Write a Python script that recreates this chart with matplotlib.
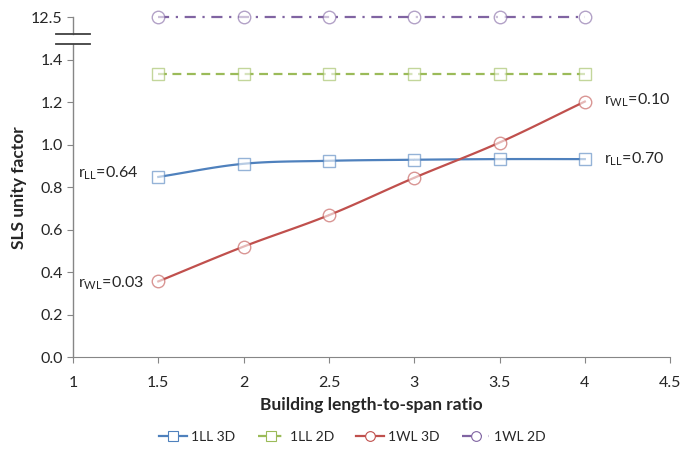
import numpy as np
import matplotlib
matplotlib.use('Agg')
import matplotlib.pyplot as plt

plt.rcParams['font.family'] = ['Lato', 'DejaVu Sans']
plt.rcParams['mathtext.fontset'] = 'custom'
plt.rcParams['mathtext.rm'] = 'Lato'

#-- Data
ratio = [1.5, 2.0, 2.5, 3.0, 3.5, 4.0]
ll_3d = [0.848, 0.910, 0.924, 0.929, 0.932, 0.932]
ll_2d = [1.335, 1.335, 1.335, 1.335, 1.335, 1.335]
wl_3d = [0.356, 0.520, 0.668, 0.844, 1.010, 1.203]
wl_2d = [12.5, 12.5, 12.5, 12.5, 12.5, 12.5]

y_ticks = [0.0, 0.2, 0.4, 0.6, 0.8, 1.0, 1.2, 1.4, 1.6]
y_labels = ['0.0', '0.2', '0.4', '0.6', '0.8', '1.0', '1.2', '1.4', '12.5']
x_ticks = [1, 1.5, 2, 2.5, 3, 3.5, 4, 4.5]
x_labels = ['1', '1.5', '2', '2.5', '3', '3.5', '4', '4.5']

#-- broken axis: 12.5 is drawn at the 1.6 slot
def broken(v):
    return [1.6 if a > 1.6 else a for a in v]

#-- Excel-like smoothed line (Catmull-Rom)
def smooth(x, y, n=20):
    x = np.asarray(x, float)
    y = np.asarray(y, float)
    px = np.concatenate([[2*x[0]-x[1]], x, [2*x[-1]-x[-2]]])
    py = np.concatenate([[2*y[0]-y[1]], y, [2*y[-1]-y[-2]]])
    xs, ys = [], []
    t = np.linspace(0, 1, n)
    for i in range(1, len(px)-2):
        for p, out in ((px, xs), (py, ys)):
            p0, p1, p2, p3 = p[i-1], p[i], p[i+1], p[i+2]
            out.extend(0.5*((2*p1) + (-p0+p2)*t + (2*p0-5*p1+4*p2-p3)*t**2
                            + (-p0+3*p1-3*p2+p3)*t**3))
    return xs, ys

blue = '#4F81BD'
green = '#9BBB59'
red = '#C0504D'
purple = '#8064A2'

fig = plt.figure(figsize=(6.84, 4.53), dpi=100)
ax = fig.add_axes([0.1067, 0.2119, 0.873, 0.750])

series = [
    (ratio, ll_3d, blue, '-', 's', '1LL 3D', True),
    (ratio, ll_2d, green, (0, (4, 2.5)), 's', '1LL 2D', False),
    (ratio, wl_3d, red, '-', 'o', '1WL 3D', True),
    (ratio, broken(wl_2d), purple, (0, (5, 3, 1, 3)), 'o', '1WL 2D', False),
]
handles = []
for x, y, c, ls, mk, name, sm in series:
    if sm:
        xs, ys = smooth(x, y)
    else:
        xs, ys = x, y
    ax.plot(xs, ys, color=c, linestyle=ls, linewidth=1.6, zorder=2, clip_on=False)
    ax.plot(x, y, linestyle='none', marker=mk, markersize=9,
            markerfacecolor='white', markeredgecolor=c, markeredgewidth=1.0,
            alpha=0.6, zorder=3, clip_on=False)
    h, = ax.plot([], [], color=c, linestyle=ls, linewidth=1.6, marker=mk,
                 markersize=7, markerfacecolor='white', markeredgecolor=c,
                 markeredgewidth=0.8)
    handles.append(h)

ax.set_xlim(1, 4.5)
ax.set_ylim(0, 1.6)
ax.set_xticks(x_ticks)
ax.set_xticklabels(x_labels)
ax.set_yticks(y_ticks)
ax.set_yticklabels(y_labels)

for s in ['top', 'right', 'left']:
    ax.spines[s].set_visible(False)
ax.spines['bottom'].set_color('#868686')
ax.tick_params(axis='both', colors='#868686', labelcolor='#262626',
               labelsize=11.5, direction='out', length=4)
ax.tick_params(axis='x', pad=10)

#-- left spine with break marks
ax.plot([1, 1], [0, 1.473], color='#868686', linewidth=1, clip_on=False, zorder=1)
ax.plot([1, 1], [1.523, 1.6], color='#868686', linewidth=1, clip_on=False, zorder=1)
for yb in [1.473, 1.523]:
    ax.plot([0.9, 1.1], [yb, yb], color='#404040', linewidth=1.3,
            clip_on=False, zorder=4)

ax.set_xlabel('Building length-to-span ratio', fontsize=12.5,
              fontweight='bold', color='#262626', labelpad=5)
ax.set_ylabel('SLS unity factor', fontsize=12.5, fontweight='bold',
              color='#262626', labelpad=3)

txt = dict(fontsize=11.5, color='#262626', va='center')
ax.text(1.03, 0.865, r'r$_{\mathrm{LL}}$=0.64', ha='left', **txt)
ax.text(1.03, 0.35, r'r$_{\mathrm{WL}}$=0.03', ha='left', **txt)
ax.text(4.11, 1.21, r'r$_{\mathrm{WL}}$=0.10', ha='left', **txt)
ax.text(4.11, 0.93, r'r$_{\mathrm{LL}}$=0.70', ha='left', **txt)

fig.legend(handles, [s[5] for s in series], loc='center',
           bbox_to_anchor=(0.515, 0.035), ncol=4, frameon=False,
           fontsize=10, handlelength=2.0, columnspacing=1.6,
           handletextpad=0.3, labelcolor='#262626')

plt.savefig('out.png', dpi=100)
